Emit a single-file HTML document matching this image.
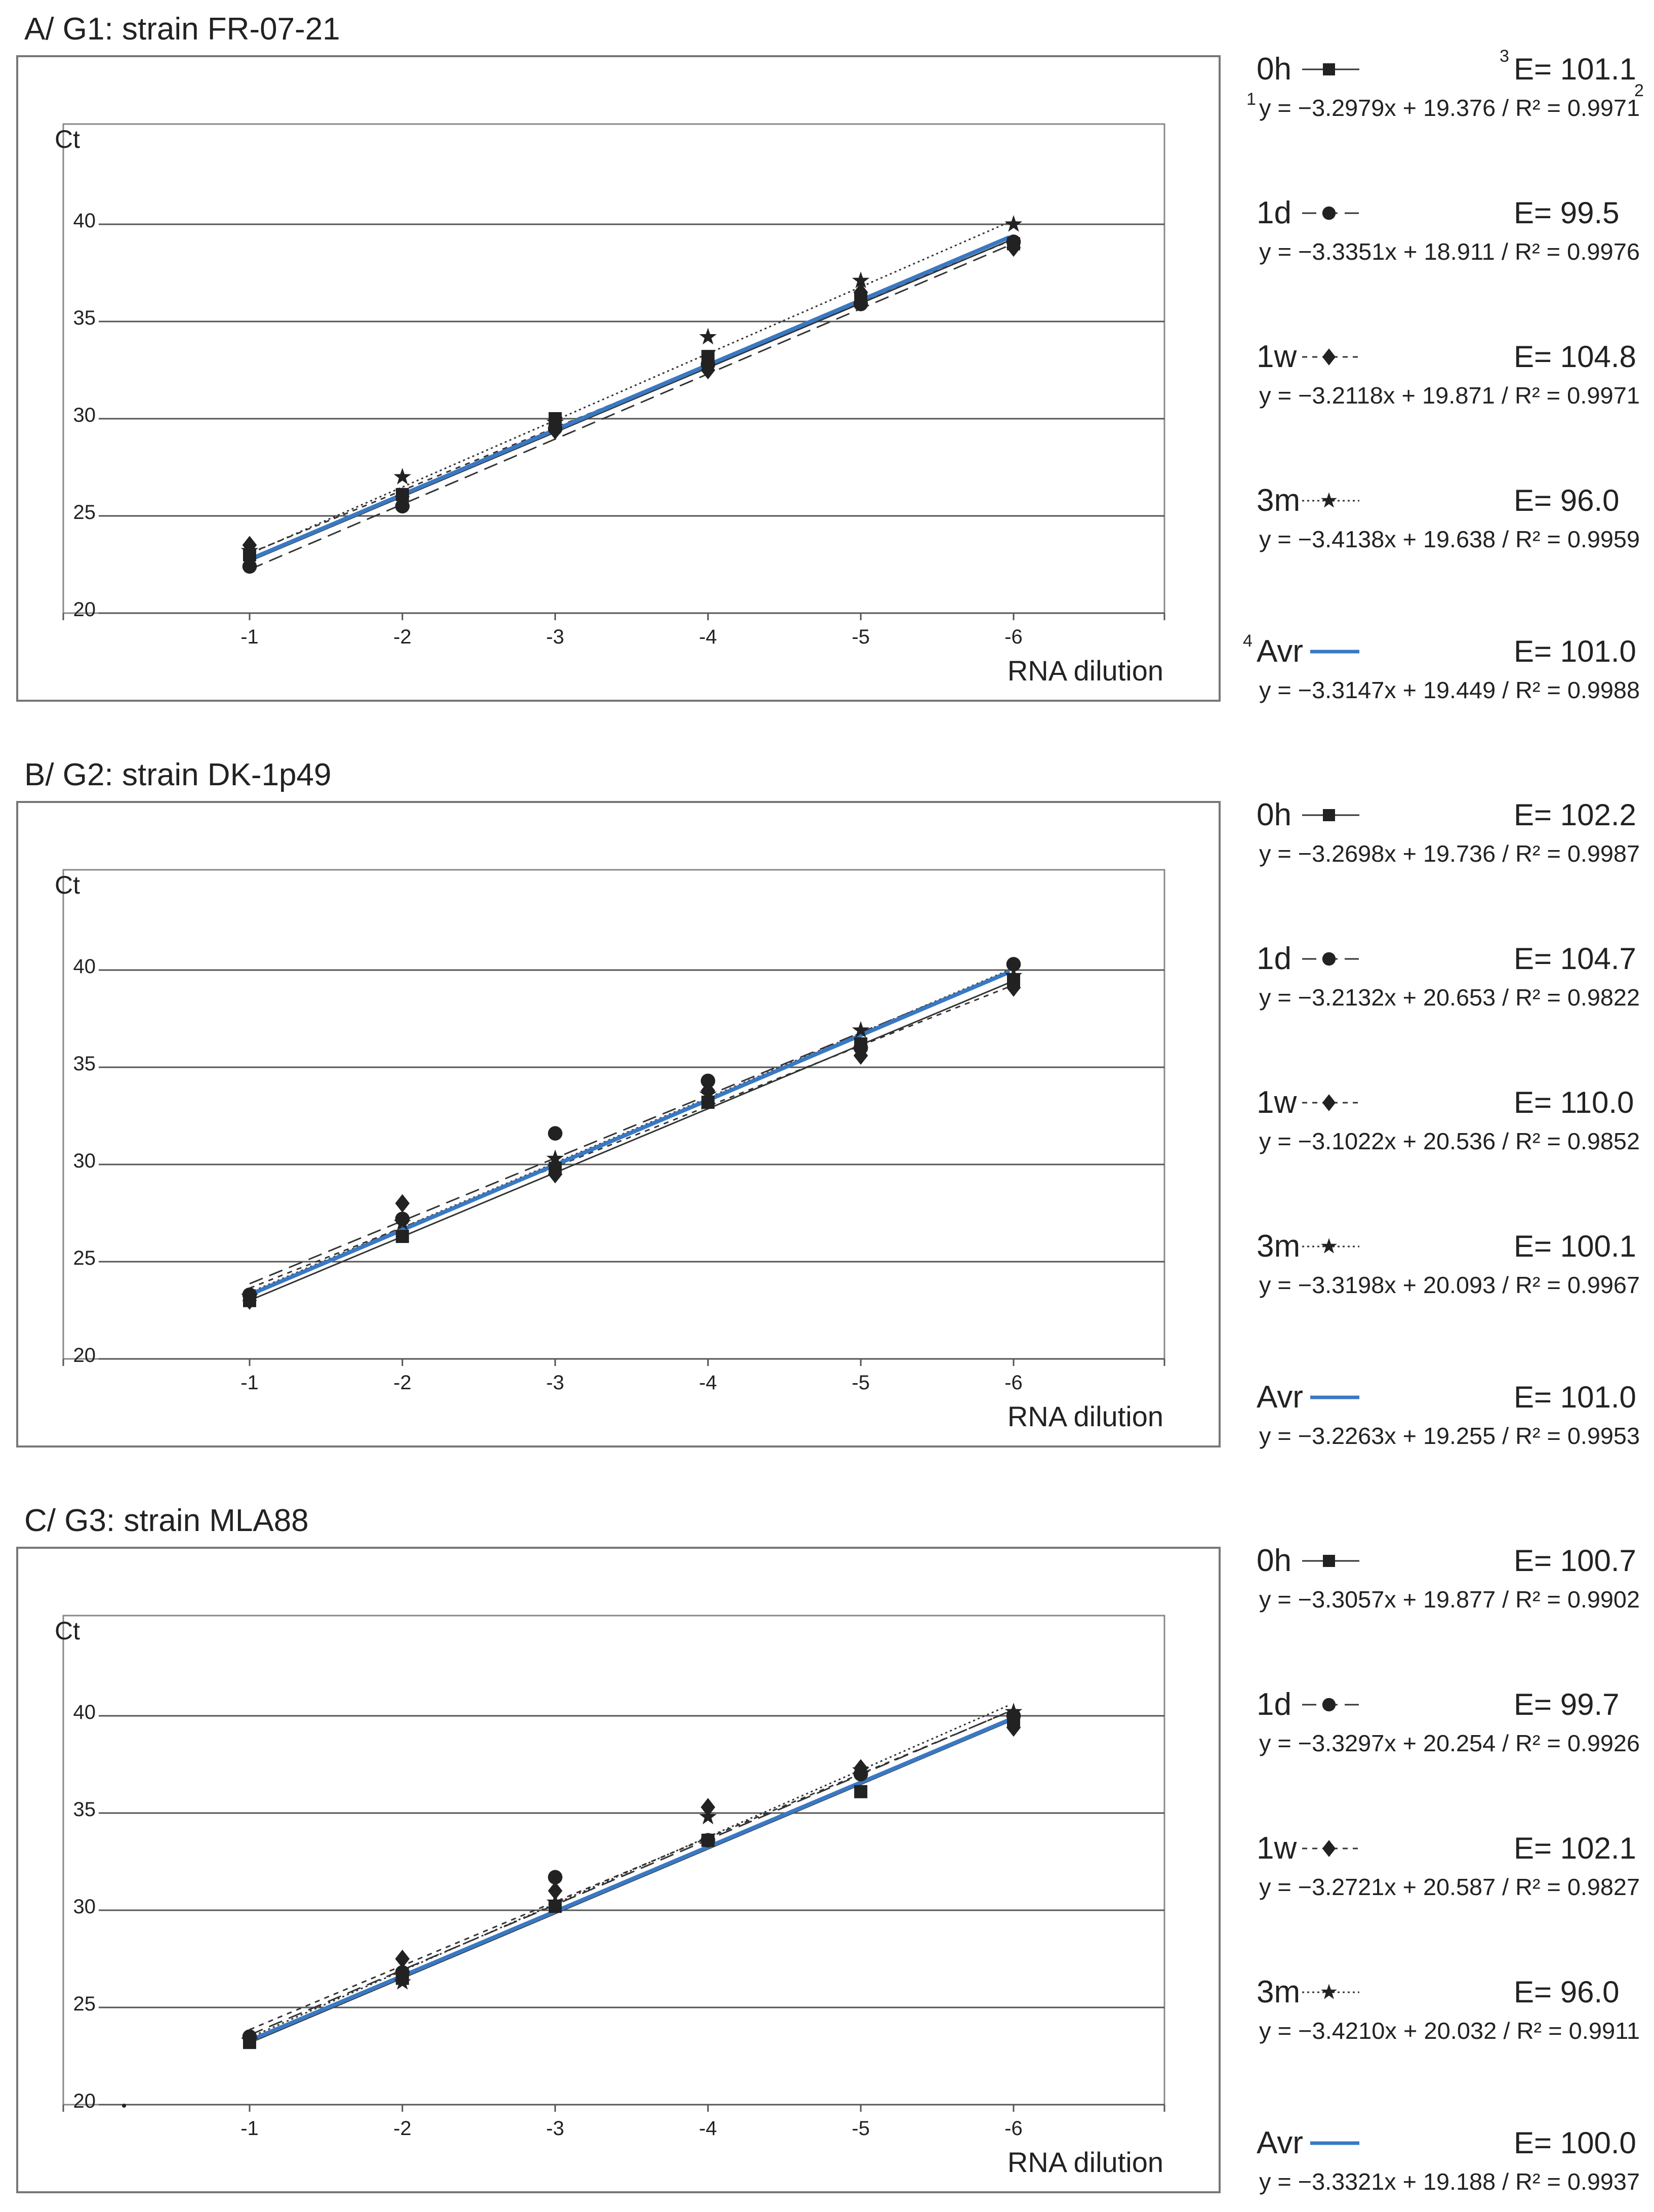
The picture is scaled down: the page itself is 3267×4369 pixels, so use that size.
<!DOCTYPE html>
<html><head><meta charset="utf-8"><style>
html,body{margin:0;padding:0;background:#fff}
svg{display:block}
text{font-family:"Liberation Sans","DejaVu Sans",sans-serif;fill:#222}
</style></head><body>
<svg id="fig" width="3267" height="4369" viewBox="0 0 3267 4369" xmlns="http://www.w3.org/2000/svg"></svg>
<script>
const panelTitles = ["A/ G1: strain FR-07-21","B/ G2: strain DK-1p49","C/ G3: strain MLA88"];
const dilutions = [-1,-2,-3,-4,-5,-6];
const seriesNames = ["0h","1d","1w","3m"];
const yTicks = [20,25,30,35,40];
const xTickLabels = ["-1","-2","-3","-4","-5","-6"];
// Ct values per panel per series
const ctA_0h = [23.0,26.1,30.0,33.2,36.2,39.0];
const ctA_1d = [22.4,25.5,29.5,32.8,35.9,39.1];
const ctA_1w = [23.5,26.0,29.4,32.5,36.5,38.8];
const ctA_3m = [23.2,27.0,29.8,34.2,37.1,40.0];
const ctB_0h = [23.0,26.3,29.8,33.2,36.2,39.5];
const ctB_1d = [23.3,27.2,31.6,34.3,36.0,40.3];
const ctB_1w = [23.0,28.0,29.5,33.8,35.6,39.1];
const ctB_3m = [23.2,27.0,30.3,33.6,36.9,39.7];
const ctC_0h = [23.2,26.5,30.2,33.6,36.1,39.8];
const ctC_1d = [23.5,26.8,31.7,33.6,37.0,40.0];
const ctC_1w = [23.4,27.5,31.0,35.3,37.3,39.4];
const ctC_3m = [23.3,26.3,30.4,34.8,37.2,40.2];
// regression coefficients as printed (0h,1d,1w,3m,Avr)
const slopesA = [-3.2979,-3.3351,-3.2118,-3.4138,-3.3147];
const interceptsA = [19.376,18.911,19.871,19.638,19.449];
const slopesB = [-3.2698,-3.2132,-3.1022,-3.3198,-3.2263];
const interceptsB = [19.736,20.653,20.536,20.093,19.255];
const slopesC = [-3.3057,-3.3297,-3.2721,-3.4210,-3.3321];
const interceptsC = [19.877,20.254,20.587,20.032,19.188];
// average line as drawn in plot (slope, intercept)
const avrDrawnA = [-3.3147,19.449];
const avrDrawnB = [-3.32,19.98];
const avrDrawnC = [-3.30,20.0];
const r2A = ["0.9971","0.9976","0.9971","0.9959","0.9988"];
const r2B = ["0.9987","0.9822","0.9852","0.9967","0.9953"];
const r2C = ["0.9902","0.9926","0.9827","0.9911","0.9937"];
const effA = ["101.1","99.5","104.8","96.0","101.0"];
const effB = ["102.2","104.7","110.0","100.1","101.0"];
const effC = ["100.7","99.7","102.1","96.0","100.0"];

const panels = [
 {data:[ctA_0h,ctA_1d,ctA_1w,ctA_3m],sl:slopesA,ic:interceptsA,r2:r2A,ef:effA,avr:avrDrawnA},
 {data:[ctB_0h,ctB_1d,ctB_1w,ctB_3m],sl:slopesB,ic:interceptsB,r2:r2B,ef:effB,avr:avrDrawnB},
 {data:[ctC_0h,ctC_1d,ctC_1w,ctC_3m],sl:slopesC,ic:interceptsC,r2:r2C,ef:effC,avr:avrDrawnC}
];
const NS="http://www.w3.org/2000/svg";
const svg=document.getElementById('fig');
function mk(tag,attrs,parent,txt){const e=document.createElementNS(NS,tag);for(const k in attrs)e.setAttribute(k,attrs[k]);if(txt!==undefined)e.textContent=txt;(parent||svg).appendChild(e);return e;}
const dashes=["none","28 14","10 10","4 6"];
const STEP=1473;
const PL=125,PR=2300,PT=245,GL=195;
function yS(v,off){return off+443+(40-v)*38.4;}
function xS(d){return 493+(-1-d)*301.8;}
function marker(g,type,cx,cy,s){
 let e;
 if(type===0){e=mk('rect',{x:cx-s,y:cy-s,width:2*s,height:2*s,fill:'#222'},g);}
 else if(type===1){e=mk('circle',{cx:cx,cy:cy,r:s*1.1,fill:'#222'},g);}
 else if(type===2){e=mk('polygon',{points:`${cx},${cy-s*1.4} ${cx+s*1.1},${cy} ${cx},${cy+s*1.4} ${cx-s*1.1},${cy}`,fill:'#222'},g);}
 else {let p=[];for(let i=0;i<10;i++){const r=i%2?s*0.55:s*1.4;const a=-Math.PI/2+i*Math.PI/5;p.push((cx+r*Math.cos(a)).toFixed(1)+','+(cy+r*Math.sin(a)).toFixed(1));}e=mk('polygon',{points:p.join(' '),fill:'#222'},g);}
 return e;
}
panels.forEach((P,pi)=>{
 const off=pi*STEP;
 const g=mk('g',{});
 
 
 const t=mk('text',{x:48,y:off+78,'font-size':62},g,panelTitles[pi]);
 
 
 const box=mk('rect',{x:34,y:off+111,width:2375,height:1273,fill:'none',stroke:'#777','stroke-width':4},g);
 
 
 const pa=mk('rect',{x:PL,y:off+PT,width:PR-PL,height:yS(20,off)-off-PT,fill:'none',stroke:'#888','stroke-width':3},g);
 
 
 yTicks.forEach(v=>{
  const y=yS(v,off);
  const l=mk('line',{x1:GL,x2:PR,y1:y,y2:y,stroke:'#555','stroke-width':3},g);
  
  
  const tl=mk('text',{x:GL-6,y:y+6,'font-size':40,'text-anchor':'end'},g,String(v));
  
  
 });
 const y20=yS(20,off);
 dilutions.forEach((d,i)=>{
  const x=xS(d);
  mk('line',{x1:x,x2:x,y1:y20,y2:y20+14,stroke:'#555','stroke-width':3},g);
  const xl=mk('text',{x:x,y:y20+60,'font-size':40,'text-anchor':'middle'},g,xTickLabels[i]);
  
  
 });
 mk('line',{x1:PL,x2:PL,y1:y20,y2:y20+14,stroke:'#555','stroke-width':3},g);
 mk('line',{x1:PR,x2:PR,y1:y20,y2:y20+14,stroke:'#555','stroke-width':3},g);
 const ct=mk('text',{x:108,y:off+292,'font-size':50},g,'Ct');
 
 
 const xt=mk('text',{x:PR-2,y:off+1344,'font-size':56,'text-anchor':'end'},g,'RNA dilution');
 
 
 if(pi===2){mk('circle',{cx:245,cy:y20+2,r:4,fill:'#222'},g);}
 // trend lines
 for(let s=0;s<5;s++){
  const x0=-1,x1=-6;
  const sl=s===4?P.avr[0]:P.sl[s], ic=s===4?P.avr[1]:P.ic[s];
  const v0=sl*x0+ic, v1=sl*x1+ic;
  const attrs={x1:xS(x0),y1:yS(v0,off),x2:xS(x1)-8,y2:yS(v1,off),stroke:s===4?'#3a78c2':'#333','stroke-width':s===4?8:3};
  if(s<4&&dashes[s]!=="none")attrs['stroke-dasharray']=dashes[s];
  const l=mk('line',attrs,g);
  
  
 }
 // points
 P.data.forEach((arr,s)=>{
  arr.forEach((v,i)=>{
   const m=marker(g,s,xS(dilutions[i]),yS(v,off),13);
   
   
  });
 });
 // legend
 const legNames=["0h","1d","1w","3m","Avr"];
 const rowY=[0,284,568,852,1150];
 const lg=mk('g',{},g);
 
 
 legNames.forEach((n,s)=>{
  const by=off+157+rowY[s];
  const nt=mk('text',{x:2482,y:by,'font-size':62},lg,n);
  
  
  const lx0=s===4?2588:2572, lx1=2685;
  const la={x1:lx0,x2:lx1,y1:by-20,y2:by-20,stroke:s===4?'#3a78c2':'#333','stroke-width':s===4?7:3};
  if(s>0&&s<4)la['stroke-dasharray']=dashes[s];
  mk('line',la,lg);
  if(s<4)marker(lg,s,2625,by-20,12);
  const et=mk('text',{x:2990,y:by,'font-size':60},lg,'E= '+P.ef[s]);
  
  
  const eqs='y = −'+Math.abs(P.sl[s]).toFixed(4)+'x + '+P.ic[s].toFixed(3)+' / R² = '+P.r2[s];
  const eq=mk('text',{x:2487,y:by+72,'font-size':46,textLength:752,lengthAdjust:'spacingAndGlyphs'},lg,eqs);
  
  
 });
 if(pi===0){
  mk('text',{x:2462,y:off+207,'font-size':34},lg,'1');
  mk('text',{x:3228,y:off+190,'font-size':34},lg,'2');
  mk('text',{x:2962,y:off+122,'font-size':34},lg,'3');
  mk('text',{x:2455,y:off+1277,'font-size':34},lg,'4');
 }
});
</script>
</body></html>
